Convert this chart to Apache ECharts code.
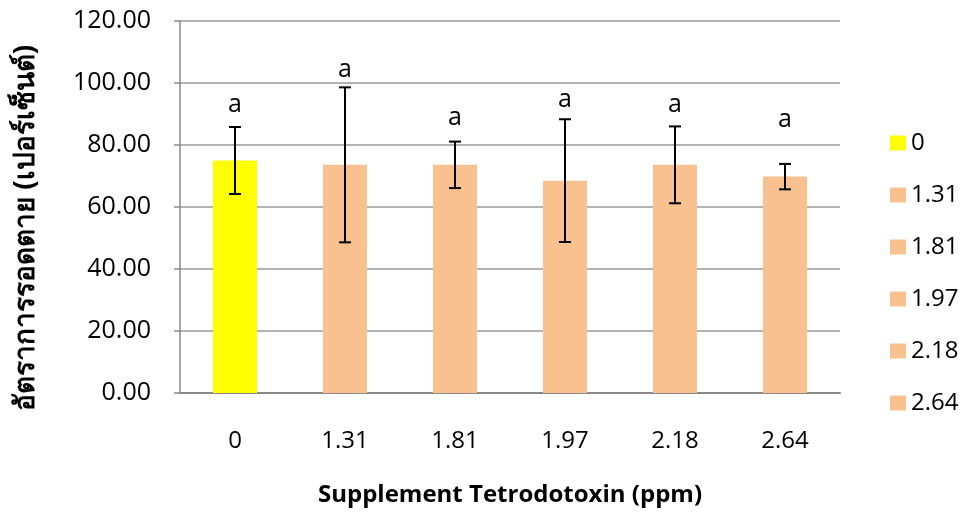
<!DOCTYPE html>
<html><head><meta charset="utf-8">
<script src="https://cdn.jsdelivr.net/npm/echarts@6/dist/echarts.min.js"></script>
<style>html,body{margin:0;padding:0;background:#fff}#c{width:966px;height:514px}</style>
</head><body><div id="c"></div>
<script>
var categories = ['0', '1.31', '1.81', '1.97', '2.18', '2.64'];
var means = [75.0, 73.6, 73.6, 68.5, 73.6, 69.8];
var errors = [10.8, 25.0, 7.5, 19.8, 12.4, 4.1];
var letters = ['a', 'a', 'a', 'a', 'a', 'a'];
var letterY = [92.9, 104.2, 88.7, 94.5, 92.9, 88.1];
var yTicks = [0, 20, 40, 60, 80, 100, 120];
var colors = ['#ffff00', '#f9c090', '#f9c090', '#f9c090', '#f9c090', '#f9c090'];

var FONT = '"Open Sans", "Liberation Sans", sans-serif';
var THAI = '"Noto Sans", "DejaVu Sans", "Open Sans", sans-serif';

var series = categories.map(function (c, i) {
  return {
    name: c, type: 'bar', stack: 'all', barWidth: 44,
    itemStyle: { color: colors[i] },
    data: categories.map(function (_, j) { return j === i ? means[j] : null; })
  };
});
series.push({
  type: 'custom', name: 'err', z: 10,
  data: means.map(function (m, i) { return [i, m - errors[i], m + errors[i]]; }),
  renderItem: function (params, api) {
    var x = api.value(0);
    var lo = api.coord([x, api.value(1)]);
    var hi = api.coord([x, api.value(2)]);
    var hw = 6;
    var st = { stroke: '#000', lineWidth: 2 };
    return { type: 'group', children: [
      { type: 'line', shape: { x1: lo[0], y1: lo[1], x2: hi[0], y2: hi[1] }, style: st },
      { type: 'line', shape: { x1: lo[0] - hw, y1: lo[1], x2: lo[0] + hw, y2: lo[1] }, style: st },
      { type: 'line', shape: { x1: hi[0] - hw, y1: hi[1], x2: hi[0] + hw, y2: hi[1] }, style: st }
    ]};
  }
});
series.push({
  type: 'custom', name: 'letters', z: 11,
  data: letterY.map(function (v, i) { return [i, v]; }),
  renderItem: function (params, api) {
    var p = api.coord([api.value(0), api.value(1)]);
    return { type: 'text', x: p[0], y: p[1],
      style: { text: letters[params.dataIndex], fill: '#000', font: '25px ' + FONT,
        align: 'center', verticalAlign: 'middle' } };
  }
});

var chart = echarts.init(document.getElementById('c'));
chart.setOption({
  animation: false,
  grid: { left: 180, right: 126, top: 21, bottom: 121, containLabel: false },
  legend: {
    orient: 'vertical', left: 885, top: 126,
    data: categories, icon: 'rect', itemWidth: 16, itemHeight: 15, itemGap: 28,
    textStyle: { fontSize: 24, fontFamily: FONT, color: '#000' }
  },
  xAxis: {
    type: 'category', data: categories,
    name: 'Supplement Tetrodotoxin (ppm)', nameLocation: 'middle', nameGap: 90,
    nameTextStyle: { fontSize: 24, fontWeight: 'bold', fontFamily: FONT, color: '#000' },
    axisLine: { lineStyle: { color: '#898989', width: 2 } },
    axisTick: { show: false },
    axisLabel: { fontSize: 24, fontFamily: FONT, color: '#000', margin: 36 }
  },
  yAxis: {
    type: 'value', min: 0, max: 120, interval: 20,
    name: 'อัตราการรอดตาย (เปอร์เซ็นต์)', nameLocation: 'middle', nameGap: 140,
    nameTextStyle: { fontSize: 28, fontWeight: 'bold', fontFamily: THAI, color: '#000', padding: [0, 42, 0, 0] },
    axisLine: { show: true, lineStyle: { color: '#898989', width: 1.5 } },
    axisTick: { show: true, length: 6, lineStyle: { color: '#898989', width: 1.5 } },
    splitLine: { lineStyle: { color: '#9a9a9a', width: 1.5 } },
    axisLabel: { fontSize: 25, fontFamily: FONT, color: '#000', margin: 29,
      formatter: function (v) { return yTicks.indexOf(v) >= 0 ? v.toFixed(2) : ''; } }
  },
  series: series
});
</script></body></html>
